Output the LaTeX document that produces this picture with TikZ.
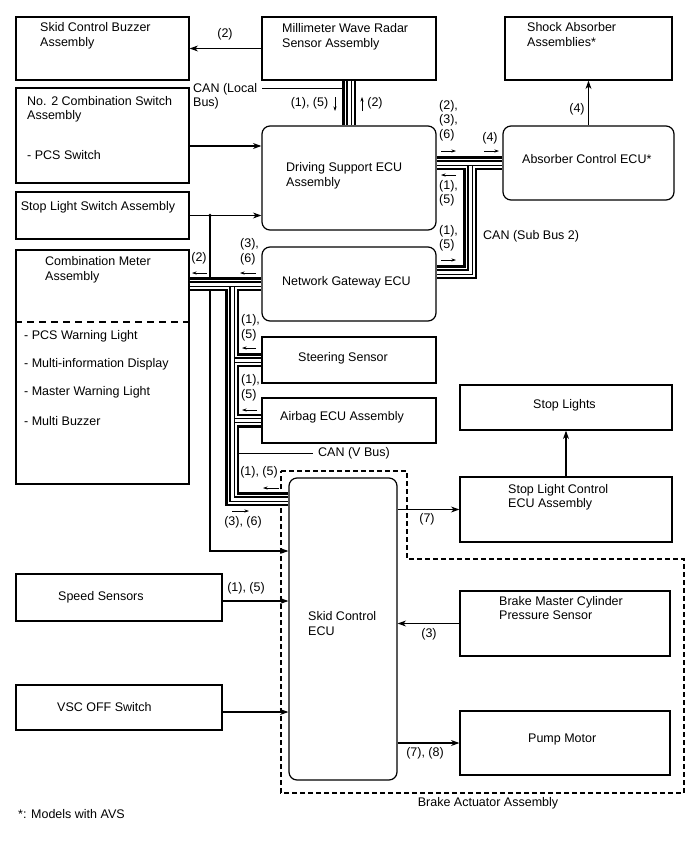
\documentclass[tikz,border=0pt]{standalone}
\usepackage{fontspec}
\setmainfont{Liberation Sans}
\usetikzlibrary{arrows.meta,calc}

\newcommand{\canbus}[1]{%
  \draw[line width=14pt] #1;
  \draw[line width=9pt,white] #1;
  \draw[line width=5.2pt] #1;
  \draw[line width=3pt,white] #1;}

\begin{document}
\begin{tikzpicture}[x=1pt,y=-1pt,
  font=\fontsize{12.5}{14.5}\selectfont,
  box/.style={draw, line width=1.2pt, inner sep=0pt},
  rbox/.style={box, rounded corners=8pt},
  txt/.style={inner sep=0pt, anchor=north west, align=left},
  lbl/.style={inner sep=0pt},
  lblw/.style={inner sep=0pt, anchor=west},
  arr/.style={line width=1.1pt, -{Stealth[length=8.5pt,width=6pt]}},
  sarr/.style={line width=0.6pt, -{Stealth[length=4.5pt,width=3pt]}}]

\useasboundingbox (0,0) rectangle (688,852);

\node[box, minimum width=173pt, minimum height=63pt] (buzz) at (102.5,48.5) {};
\node[box, minimum width=174pt, minimum height=63pt] (radar) at (349,48.5) {};
\node[box, minimum width=167pt, minimum height=63pt] (shock) at (588.5,48.5) {};
\node[box, minimum width=173pt, minimum height=95pt] (sw2) at (102.5,135.5) {};
\node[rbox, minimum width=174pt, minimum height=104pt] (dsecu) at (349,178) {};
\node[rbox, minimum width=171pt, minimum height=74pt] (absecu) at (588.5,163) {};
\node[box, minimum width=173pt, minimum height=47pt] (slsw) at (102.5,215.5) {};
\node[box, minimum width=173pt, minimum height=234pt] (cmeter) at (102.5,367) {};
\node[rbox, minimum width=174pt, minimum height=74pt] (gw) at (349,284) {};
\node[box, minimum width=174pt, minimum height=46pt] (steer) at (349,360) {};
\node[box, minimum width=174pt, minimum height=45pt] (airbag) at (349,420.5) {};
\node[rbox, minimum width=108pt, minimum height=302pt] (skid) at (343,629) {};
\node[box, minimum width=212pt, minimum height=45pt] (lights) at (566,407.5) {};
\node[box, minimum width=212pt, minimum height=65pt] (slecu) at (566,509.5) {};
\node[box, minimum width=206pt, minimum height=47pt] (speed) at (119,597.5) {};
\node[box, minimum width=210pt, minimum height=65pt] (bmc) at (565,623.5) {};
\node[box, minimum width=206pt, minimum height=45pt] (vsc) at (119,707.5) {};
\node[box, minimum width=210pt, minimum height=64pt] (pump) at (565,743) {};

\node[txt] (t-buzz) at (40,22.5) {Skid Control Buzzer\\Assembly};
\node[txt] (t-radar) at (282,23.3) {Millimeter Wave Radar\\Sensor Assembly};
\node[txt] (t-shock) at (527,22.5) {Shock Absorber\\Assemblies*};
\node[txt] (t-sw2) at (27,96) {No. 2 Combination Switch\\Assembly};
\node[txt] (t-pcs) at (27,150.7) {- PCS Switch};
\node[txt] (t-dsecu) at (286,162.7) {Driving Support ECU\\Assembly};
\node[txt] (t-absecu) at (522,154.3) {Absorber Control ECU*};
\node[txt] (t-slsw) at (20.7,201.7) {Stop Light Switch Assembly};
\node[txt] (t-cmeter) at (45,256.7) {Combination Meter\\Assembly};
\node[txt] (t-m1) at (24,330.5) {- PCS Warning Light};
\node[txt] (t-m2) at (24,358.3) {- Multi-information Display};
\node[txt] (t-m3) at (24,386.7) {- Master Warning Light};
\node[txt] (t-m4) at (24,416.7) {- Multi Buzzer};
\node[txt] (t-gw) at (282,276.7) {Network Gateway ECU};
\node[txt] (t-steer) at (298,352.7) {Steering Sensor};
\node[txt] (t-airbag) at (280,411.7) {Airbag ECU Assembly};
\node[txt] (t-skid) at (308,611.7) {Skid Control\\ECU};
\node[lblw] (t-lights) at (533,405) {Stop Lights};
\node[txt] (t-slecu) at (508,484) {Stop Light Control\\ECU Assembly};
\node[lblw] (t-speed) at (58,597) {Speed Sensors};
\node[txt] (t-bmc) at (499,596) {Brake Master Cylinder\\Pressure Sensor};
\node[lblw] (t-vsc) at (57,707) {VSC OFF Switch};
\node[lblw] (t-pump) at (528,739) {Pump Motor};

\draw[dash pattern=on 7pt off 5pt, line width=1.1pt] (cmeter.west |- 0,322) -- (cmeter.east |- 0,322);
\draw[dash pattern=on 5pt off 3pt, line width=1.1pt] (281,471) -- (407,471) -- (407,559) -- (684,559) -- (684,793) -- (281,793) -- cycle;
\node[lbl] (bact) at (488,803) {Brake Actuator Assembly};
\node[lblw] (note) at (18,814) {*: Models with AVS};

% signal lines
\coordinate (sj) at (210,215.5);
\draw[arr] (radar.west) -- (buzz.east);
\draw[arr] (sw2.east |- 0,146) -- (dsecu.west |- 0,146);
\draw[arr] (slsw.east) -- (dsecu.west |- slsw.east);
\draw[arr] (sj) -- (sj |- 0,551) -- (skid.west |- 0,551);
\fill (sj) circle (1.8);
\draw[arr] (absecu.north) -- (shock.south);
\draw[arr] (slecu.north) -- (lights.south);
\draw[arr] (speed.east |- 0,601) -- (skid.west |- 0,601);
\draw[arr] (vsc.east |- 0,712) -- (skid.west |- 0,712);
\draw[arr] (skid.east |- slecu.west) -- (slecu.west);
\draw[arr] (bmc.west) -- (skid.east |- bmc.west);
\draw[arr] (skid.east |- pump.west) -- (pump.west);

% CAN lines
\coordinate (lbend) at (262,88);
\coordinate (sb) at (470,272);
\coordinate (vb) at (232,499);
\coordinate (vbend) at (313,453);
\draw[line width=0.9pt] (lbend) -- (radar.south |- lbend);
\draw[line width=0.9pt] (vb |- vbend) -- (vbend);
\canbus{(radar.south) -- (dsecu.north)}
\canbus{(dsecu.east |- absecu.west) -- (absecu.west)
  ($(sb |- absecu.west)+(0,2.6)$) -- (sb) -- (gw.east |- sb)}
\canbus{(cmeter.east |- gw.west) -- (gw.west)
  ($(vb |- gw.west)+(0,2.6)$) -- (vb) -- (skid.west |- vb)
  ($(vb |- steer.west)+(2.6,0)$) -- (steer.west)
  ($(vb |- airbag.west)+(2.6,0)$) -- (airbag.west)}

\node[txt] (n-lb) at (193,83) {CAN (Local\\Bus)};
\node[lblw] (n-sb) at (483,236.7) {CAN (Sub Bus 2)};
\node[lblw] (n-vb) at (318,453) {CAN (V Bus)};

% labels
\node[lbl] (r2) at (225,34) {(2)};
\node[lbl] (lb15) at (309.5,103) {(1), (5)};
\draw[sarr] (335,97) -- (335,111);
\draw[sarr] (362,111) -- (362,97);
\node[lbl] (lb2) at (375,103) {(2)};

\node[txt] (s236) at (439,100) {(2),\\(3),\\(6)};
\draw[sarr] (441,151) -- (456,151);
\node[lbl] (s4) at (490,138) {(4)};
\draw[sarr] (484,151) -- (499,151);
\draw[sarr] (456,175) -- (441,175);
\node[txt] (s15a) at (439,180) {(1),\\(5)};
\node[txt] (s15b) at (439,225) {(1),\\(5)};
\draw[sarr] (441,260) -- (456,260);

\node[lbl] (v2) at (199,258) {(2)};
\draw[sarr] (207,273) -- (192,273);
\node[txt] (v36) at (240,238.5) {(3),\\(6)};
\draw[sarr] (256,273) -- (240,273);
\node[txt] (v15a) at (241,314.5) {(1),\\(5)};
\draw[sarr] (256,348) -- (242,348);
\node[txt] (v15b) at (241,374.5) {(1),\\(5)};
\draw[sarr] (257,410) -- (242,410);
\node[lbl] (v15c) at (259,472) {(1), (5)};
\draw[sarr] (279,488) -- (263,488);
\node[lbl] (v36b) at (243,522) {(3), (6)};
\draw[sarr] (232,511) -- (249,511);

\node[lbl] (a4) at (577,109) {(4)};
\node[lbl] (k7) at (427,519) {(7)};
\node[lbl] (k15) at (246,588) {(1), (5)};
\node[lbl] (k3) at (429,634) {(3)};
\node[lbl] (k78) at (425,753) {(7), (8)};
\end{tikzpicture}
\end{document}
